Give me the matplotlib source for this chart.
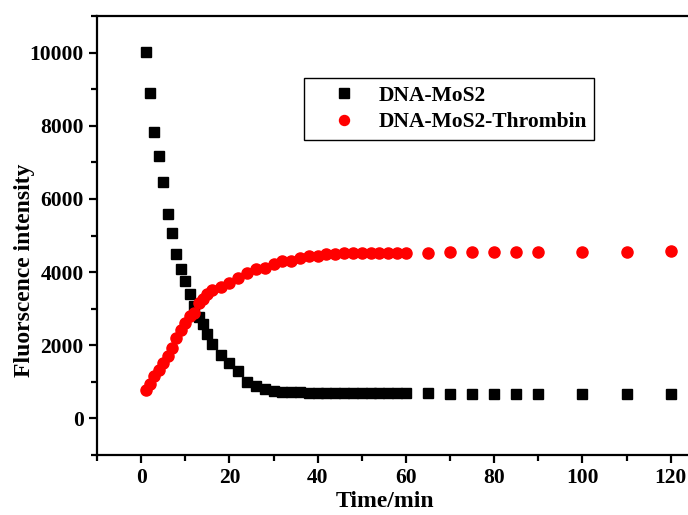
import matplotlib
matplotlib.use("Agg")
import matplotlib.pyplot as plt
from matplotlib.ticker import MultipleLocator

# time points (min)
time_min = [1, 2, 3, 4, 5, 6, 7, 8, 9, 10, 11, 12, 13, 14, 15, 16,
            18, 20, 22, 24, 26, 28, 30, 32, 34, 36, 38, 40, 42, 44, 46, 48,
            50, 52, 54, 56, 58, 60, 65, 70, 75, 80, 85, 90, 100, 110, 120]

dna_mos2 = [10030, 8890, 7830, 7175, 6470, 5580, 5080, 4495, 4075, 3755,
            3390, 3080, 2780, 2580, 2300, 2025, 1740, 1510, 1295, 985,
            890, 800, 755, 730, 720, 712, 708, 705, 702, 700, 700, 698,
            696, 694, 692, 690, 688, 684, 684, 680, 672, 668, 666, 665,
            662, 662, 660]

dna_mos2_thrombin = [775, 930, 1155, 1320, 1505, 1710, 1915, 2190, 2415, 2615,
                     2800, 2890, 3145, 3270, 3400, 3510, 3600, 3710, 3830, 3965,
                     4090, 4110, 4215, 4290, 4305, 4375, 4430, 4440, 4500, 4495,
                     4510, 4512, 4514, 4515, 4516, 4518, 4520, 4525, 4530, 4545,
                     4545, 4550, 4550, 4550, 4555, 4555, 4580]

plt.rcParams["font.family"] = ["Liberation Serif", "DejaVu Serif"]
plt.rcParams["font.weight"] = "bold"

fig = plt.figure(figsize=(6.88, 5.15), dpi=100)
ax = fig.add_axes([0.141, 0.1165, 0.898, 0.8524])

ax.plot(time_min, dna_mos2, ls="none", marker="s", ms=7.5, color="black",
        mec="black", label="DNA-MoS2")
ax.plot(time_min, dna_mos2_thrombin, ls="none", marker="o", ms=8, color="#ff0000",
        mec="#ff0000", label="DNA-MoS2-Thrombin")

ax.set_xlim(-10, 130)
ax.set_ylim(-1000, 11000)
ax.xaxis.set_major_locator(MultipleLocator(20))
ax.xaxis.set_minor_locator(MultipleLocator(10))
ax.yaxis.set_major_locator(MultipleLocator(2000))
ax.yaxis.set_minor_locator(MultipleLocator(1000))

for sp in ax.spines.values():
    sp.set_linewidth(1.6)
ax.tick_params(which="major", direction="out", length=6, width=1.6, labelsize=15.5)
ax.tick_params(which="minor", direction="out", length=4, width=1.6)
for lab in ax.get_xticklabels() + ax.get_yticklabels():
    lab.set_fontweight("bold")

ax.set_xlabel("Time/min", fontsize=17, fontweight="bold")
ax.set_ylabel("Fluorscence intensity", fontsize=17, fontweight="bold")
ax.xaxis.set_label_coords(0.466, -0.083)
ax.yaxis.set_label_coords(-0.10, 0.42)

leg = ax.legend(loc="upper left", bbox_to_anchor=(0.335, 0.859), fontsize=15.5,
                frameon=True, fancybox=False, edgecolor="black", framealpha=1,
                handletextpad=0.1, borderpad=0.35, labelspacing=0.3,
                handlelength=3.0, borderaxespad=0, markerscale=0.9)
leg.get_frame().set_linewidth(1.0)
for txt in leg.get_texts():
    txt.set_fontweight("bold")

fig.savefig("out.png", dpi=100)
